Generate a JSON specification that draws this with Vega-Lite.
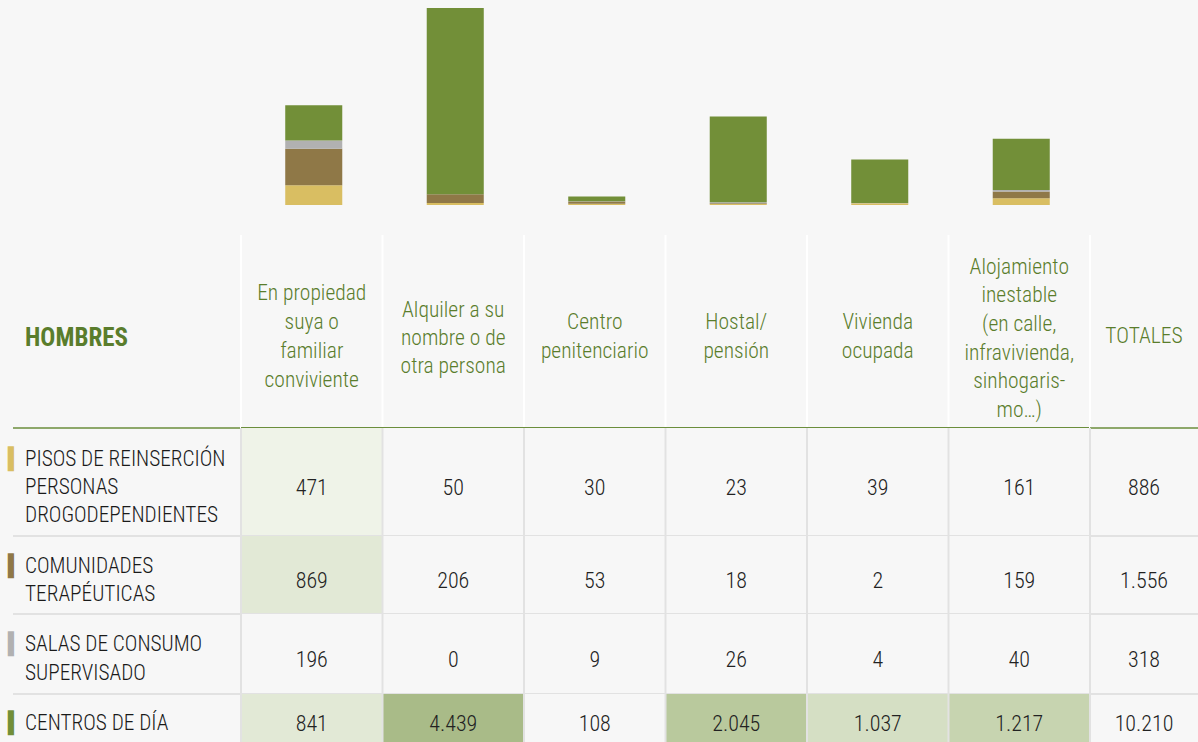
{
  "$schema": "https://vega.github.io/schema/vega-lite/v6.json",
  "background": "#f7f7f7",
  "padding": {"left": 8, "top": 0, "right": 0, "bottom": 0},
  "spacing": 0,
  "columns": 3,
  "bounds": "flush",
  "config": {
    "view": {"stroke": null},
    "concat": {"spacing": 0},
    "text": {"fontWeight": 300},
    "locale": {"number": {"decimal": ",", "thousands": ".", "grouping": [3], "currency": ["", " €"]}}
  },
  "resolve": {"scale": {"x": "independent", "y": "independent", "color": "independent", "fill": "independent"}},
  "datasets": {
    "recursos": [
      {"recurso": "Pisos de reinserción personas drogodependientes", "label": "PISOS DE REINSERCIÓN|PERSONAS|DROGODEPENDIENTES"},
      {"recurso": "Comunidades terapéuticas", "label": "COMUNIDADES|TERAPÉUTICAS"},
      {"recurso": "Salas de consumo supervisado", "label": "SALAS DE CONSUMO|SUPERVISADO"},
      {"recurso": "Centros de día", "label": "CENTROS DE DÍA"}
    ],
    "cols": [
      {"col": "En propiedad suya o familiar conviviente", "hdr": "En propiedad|suya o|familiar|conviviente"},
      {"col": "Alquiler a su nombre o de otra persona", "hdr": "Alquiler a su|nombre o de|otra persona"},
      {"col": "Centro penitenciario", "hdr": "Centro|penitenciario"},
      {"col": "Hostal/pensión", "hdr": "Hostal/|pensión"},
      {"col": "Vivienda ocupada", "hdr": "Vivienda|ocupada"},
      {"col": "Alojamiento inestable (en calle, infravivienda, sinhogarismo...)", "hdr": "Alojamiento|inestable|(en calle,|infravivienda,|sinhogaris-|mo…)"}
    ],
    "cells": [
      {"recurso": "Pisos de reinserción personas drogodependientes", "col": "En propiedad suya o familiar conviviente", "v": 471},
      {"recurso": "Pisos de reinserción personas drogodependientes", "col": "Alquiler a su nombre o de otra persona", "v": 50},
      {"recurso": "Pisos de reinserción personas drogodependientes", "col": "Centro penitenciario", "v": 30},
      {"recurso": "Pisos de reinserción personas drogodependientes", "col": "Hostal/pensión", "v": 23},
      {"recurso": "Pisos de reinserción personas drogodependientes", "col": "Vivienda ocupada", "v": 39},
      {"recurso": "Pisos de reinserción personas drogodependientes", "col": "Alojamiento inestable (en calle, infravivienda, sinhogarismo...)", "v": 161},
      {"recurso": "Pisos de reinserción personas drogodependientes", "col": "Totales", "v": 886},
      {"recurso": "Comunidades terapéuticas", "col": "En propiedad suya o familiar conviviente", "v": 869},
      {"recurso": "Comunidades terapéuticas", "col": "Alquiler a su nombre o de otra persona", "v": 206},
      {"recurso": "Comunidades terapéuticas", "col": "Centro penitenciario", "v": 53},
      {"recurso": "Comunidades terapéuticas", "col": "Hostal/pensión", "v": 18},
      {"recurso": "Comunidades terapéuticas", "col": "Vivienda ocupada", "v": 2},
      {"recurso": "Comunidades terapéuticas", "col": "Alojamiento inestable (en calle, infravivienda, sinhogarismo...)", "v": 159},
      {"recurso": "Comunidades terapéuticas", "col": "Totales", "v": 1556},
      {"recurso": "Salas de consumo supervisado", "col": "En propiedad suya o familiar conviviente", "v": 196},
      {"recurso": "Salas de consumo supervisado", "col": "Alquiler a su nombre o de otra persona", "v": 0},
      {"recurso": "Salas de consumo supervisado", "col": "Centro penitenciario", "v": 9},
      {"recurso": "Salas de consumo supervisado", "col": "Hostal/pensión", "v": 26},
      {"recurso": "Salas de consumo supervisado", "col": "Vivienda ocupada", "v": 4},
      {"recurso": "Salas de consumo supervisado", "col": "Alojamiento inestable (en calle, infravivienda, sinhogarismo...)", "v": 40},
      {"recurso": "Salas de consumo supervisado", "col": "Totales", "v": 318},
      {"recurso": "Centros de día", "col": "En propiedad suya o familiar conviviente", "v": 841},
      {"recurso": "Centros de día", "col": "Alquiler a su nombre o de otra persona", "v": 4439},
      {"recurso": "Centros de día", "col": "Centro penitenciario", "v": 108},
      {"recurso": "Centros de día", "col": "Hostal/pensión", "v": 2045},
      {"recurso": "Centros de día", "col": "Vivienda ocupada", "v": 1037},
      {"recurso": "Centros de día", "col": "Alojamiento inestable (en calle, infravivienda, sinhogarismo...)", "v": 1217},
      {"recurso": "Centros de día", "col": "Totales", "v": 10210}
    ]
  },
  "concat": [
    {"width": 233, "height": 235, "data": {"values": [{}]}, "mark": {"type": "text", "text": " "}, "encoding": {}},
    {
      "width": 849, "height": 235,
      "data": {"name": "cells"},
      "transform": [
        {"filter": "datum.col != 'Totales'"},
        {"calculate": "indexof(['Pisos de reinserción personas drogodependientes','Comunidades terapéuticas','Salas de consumo supervisado','Centros de día'], datum.recurso)", "as": "orden"}
      ],
      "mark": {"type": "bar", "width": {"band": 0.403}, "xOffset": 2},
      "encoding": {
        "x": {"field": "col", "type": "nominal", "axis": null, "sort": null,
          "scale": {"type": "band", "paddingInner": 0, "paddingOuter": 0, "domain": ["En propiedad suya o familiar conviviente", "Alquiler a su nombre o de otra persona", "Centro penitenciario", "Hostal/pensión", "Vivienda ocupada", "Alojamiento inestable (en calle, infravivienda, sinhogarismo...)"]}},
        "y": {"field": "v", "type": "quantitative", "stack": "zero", "axis": null, "scale": {"domain": [0, 4695], "range": [205, 8], "nice": false}},
        "color": {"field": "recurso", "type": "nominal", "legend": null,
          "scale": {"domain": ["Pisos de reinserción personas drogodependientes", "Comunidades terapéuticas", "Salas de consumo supervisado", "Centros de día"], "range": ["#d9be62", "#8f7847", "#b1b1b1", "#728f38"]}},
        "order": {"field": "orden", "type": "quantitative", "sort": "ascending"}
      }
    },
    {"width": 108, "height": 235, "data": {"values": [{}]}, "mark": {"type": "text", "text": " "}, "encoding": {}},

    {
      "width": 233, "height": 193,
      "data": {"values": [{}]},
      "layer": [
        {"mark": {"type": "text", "text": "HOMBRES", "align": "left", "baseline": "middle", "dx": 17, "dy": 6, "font": "Liberation Sans Narrow, Roboto Condensed, DejaVu Sans Condensed, sans-serif", "fontSize": 25, "fontWeight": "bold", "color": "#5a7d2c"}, "encoding": {"x": {"value": 0}}},
        {"mark": {"type": "rule", "color": "#6b8e3d", "strokeWidth": 1.5}, "encoding": {"y": {"value": 193}, "x": {"value": 5}, "x2": {"value": 233}}}
      ]
    },
    {
      "width": 849, "height": 193,
      "data": {"name": "cols"},
      "transform": [{"calculate": "length(split(datum.hdr, '|'))", "as": "nl"}],
      "encoding": {
        "x": {"field": "col", "type": "nominal", "axis": null, "sort": null,
          "scale": {"type": "band", "paddingInner": 0, "paddingOuter": 0, "domain": ["En propiedad suya o familiar conviviente", "Alquiler a su nombre o de otra persona", "Centro penitenciario", "Hostal/pensión", "Vivienda ocupada", "Alojamiento inestable (en calle, infravivienda, sinhogarismo...)"]}}
      },
      "layer": [
        {"mark": {"type": "rule", "color": "#ffffff", "strokeWidth": 2},
          "encoding": {"x": {"field": "col", "type": "nominal", "bandPosition": 0, "axis": null, "sort": null}}},
        {"transform": [{"filter": "datum.nl == 2"}],
          "mark": {"type": "text", "align": "center", "baseline": "middle", "dy": -9, "font": "Liberation Sans Narrow, Roboto Condensed, DejaVu Sans Condensed, sans-serif", "fontSize": 21.5, "lineHeight": 29, "lineBreak": "|", "color": "#5a7d2c"},
          "encoding": {"text": {"field": "hdr"}}},
        {"transform": [{"filter": "datum.nl == 3"}],
          "mark": {"type": "text", "align": "center", "baseline": "middle", "dy": -21, "font": "Liberation Sans Narrow, Roboto Condensed, DejaVu Sans Condensed, sans-serif", "fontSize": 21.5, "lineHeight": 28, "lineBreak": "|", "color": "#5a7d2c"},
          "encoding": {"text": {"field": "hdr"}}},
        {"transform": [{"filter": "datum.nl == 4"}],
          "mark": {"type": "text", "align": "center", "baseline": "middle", "dy": -38, "font": "Liberation Sans Narrow, Roboto Condensed, DejaVu Sans Condensed, sans-serif", "fontSize": 21.5, "lineHeight": 29, "lineBreak": "|", "color": "#5a7d2c"},
          "encoding": {"text": {"field": "hdr"}}},
        {"transform": [{"filter": "datum.nl == 6"}],
          "mark": {"type": "text", "align": "center", "baseline": "middle", "dy": -64, "font": "Liberation Sans Narrow, Roboto Condensed, DejaVu Sans Condensed, sans-serif", "fontSize": 21.5, "lineHeight": 28.7, "lineBreak": "|", "color": "#5a7d2c"},
          "encoding": {"text": {"field": "hdr"}}},
        {"mark": {"type": "rule", "color": "#6b8e3d", "strokeWidth": 1.5}, "encoding": {"x": null, "y": {"value": 193}}}
      ]
    },
    {
      "width": 108, "height": 193,
      "data": {"values": [{}]},
      "layer": [
        {"mark": {"type": "rule", "color": "#ffffff", "strokeWidth": 2}, "encoding": {"x": {"value": 0}}},
        {"mark": {"type": "text", "text": "TOTALES", "align": "center", "baseline": "middle", "dy": 5, "font": "Liberation Sans Narrow, Roboto Condensed, DejaVu Sans Condensed, sans-serif", "fontSize": 21.5, "color": "#5a7d2c"}, "encoding": {}},
        {"mark": {"type": "rule", "color": "#6b8e3d", "strokeWidth": 1.5}, "encoding": {"y": {"value": 193}}}
      ]
    },

    {
      "width": 233, "height": 108,
      "data": {"name": "recursos"},
      "transform": [{"filter": "datum.recurso == 'Pisos de reinserción personas drogodependientes'"}],
      "encoding": {"y": {"field": "recurso", "type": "nominal", "axis": null, "scale": {"type": "band", "paddingInner": 0, "paddingOuter": 0}}},
      "layer": [
        {"mark": {"type": "rule", "color": "#e2e2e2", "strokeWidth": 2}, "encoding": {"y": {"field": "recurso", "type": "nominal", "bandPosition": 1, "axis": null}, "x": {"value": 5}, "x2": {"value": 233}}},
        {"mark": {"type": "text", "align": "left", "baseline": "middle", "dx": 17, "dy": -22, "font": "Liberation Sans Narrow, Roboto Condensed, DejaVu Sans Condensed, sans-serif", "fontSize": 21.3, "lineHeight": 28, "lineBreak": "|", "color": "#1a1a1a"},
          "encoding": {"x": {"value": 0}, "text": {"field": "label"}}},
        {"mark": {"type": "text", "text": "▍", "align": "left", "baseline": "middle", "dx": 0, "dy": -22, "font": "DejaVu Sans", "fontSize": 21},
          "encoding": {"x": {"value": 0},
            "color": {"field": "recurso", "type": "nominal", "legend": null, "scale": {"domain": ["Pisos de reinserción personas drogodependientes", "Comunidades terapéuticas", "Salas de consumo supervisado", "Centros de día"], "range": ["#d9be62", "#8f7847", "#b1b1b1", "#728f38"]}}}}
      ]
    },
    {
      "width": 849, "height": 108,
      "data": {"name": "cells"},
      "transform": [{"filter": "datum.recurso == 'Pisos de reinserción personas drogodependientes' && datum.col != 'Totales'"}],
      "encoding": {
        "x": {"field": "col", "type": "nominal", "axis": null, "sort": null, "scale": {"type": "band", "paddingInner": 0, "paddingOuter": 0, "domain": ["En propiedad suya o familiar conviviente", "Alquiler a su nombre o de otra persona", "Centro penitenciario", "Hostal/pensión", "Vivienda ocupada", "Alojamiento inestable (en calle, infravivienda, sinhogarismo...)"]}},
        "y": {"field": "recurso", "type": "nominal", "axis": null, "scale": {"type": "band", "paddingInner": 0, "paddingOuter": 0}}
      },
      "layer": [
        {"mark": {"type": "rect"},
          "encoding": {"fill": {"field": "v", "type": "quantitative", "legend": null, "scale": {"type": "threshold", "domain": [400, 800, 1000, 1100, 1500, 3000], "range": ["#f7f7f7", "#eff3e8", "#e2e9d6", "#d5dfc4", "#c7d4b0", "#b9c99d", "#a9bb88"]}}}},
        {"mark": {"type": "rule", "color": "#e2e2e2", "strokeWidth": 2},
          "encoding": {"x": {"field": "col", "type": "nominal", "bandPosition": 0, "axis": null, "sort": null}, "y": null}},
        {"mark": {"type": "rule", "color": "#e2e2e2", "strokeWidth": 2},
          "encoding": {"x": null, "y": {"field": "recurso", "type": "nominal", "bandPosition": 1, "axis": null}}},
        {"mark": {"type": "text", "align": "center", "baseline": "middle", "dy": 6, "font": "Liberation Sans Narrow, Roboto Condensed, DejaVu Sans Condensed, sans-serif", "fontSize": 22, "color": "#222222"},
          "encoding": {"text": {"field": "v", "type": "quantitative", "format": ",d"}}}
      ]
    },
    {
      "width": 108, "height": 108,
      "data": {"name": "cells"},
      "transform": [{"filter": "datum.recurso == 'Pisos de reinserción personas drogodependientes' && datum.col == 'Totales'"}],
      "encoding": {"y": {"field": "recurso", "type": "nominal", "axis": null, "scale": {"type": "band", "paddingInner": 0, "paddingOuter": 0}}},
      "layer": [
        {"mark": {"type": "rule", "color": "#e2e2e2", "strokeWidth": 2}, "encoding": {"x": {"value": 0}, "y": null}},
        {"mark": {"type": "rule", "color": "#e2e2e2", "strokeWidth": 2}, "encoding": {"y": {"field": "recurso", "type": "nominal", "bandPosition": 1, "axis": null}}},
        {"mark": {"type": "text", "align": "center", "baseline": "middle", "dy": 6, "font": "Liberation Sans Narrow, Roboto Condensed, DejaVu Sans Condensed, sans-serif", "fontSize": 22, "color": "#222222"},
          "encoding": {"text": {"field": "v", "type": "quantitative", "format": ",d"}}}
      ]
    },

    {
      "width": 233, "height": 78,
      "data": {"name": "recursos"},
      "transform": [{"filter": "datum.recurso == 'Comunidades terapéuticas'"}],
      "encoding": {"y": {"field": "recurso", "type": "nominal", "axis": null, "scale": {"type": "band", "paddingInner": 0, "paddingOuter": 0}}},
      "layer": [
        {"mark": {"type": "rule", "color": "#e2e2e2", "strokeWidth": 2}, "encoding": {"y": {"field": "recurso", "type": "nominal", "bandPosition": 1, "axis": null}, "x": {"value": 5}, "x2": {"value": 233}}},
        {"mark": {"type": "text", "align": "left", "baseline": "middle", "dx": 17, "dy": -8, "font": "Liberation Sans Narrow, Roboto Condensed, DejaVu Sans Condensed, sans-serif", "fontSize": 21.3, "lineHeight": 28, "lineBreak": "|", "color": "#1a1a1a"},
          "encoding": {"x": {"value": 0}, "text": {"field": "label"}}},
        {"mark": {"type": "text", "text": "▍", "align": "left", "baseline": "middle", "dx": 0, "dy": -8, "font": "DejaVu Sans", "fontSize": 21},
          "encoding": {"x": {"value": 0},
            "color": {"field": "recurso", "type": "nominal", "legend": null, "scale": {"domain": ["Pisos de reinserción personas drogodependientes", "Comunidades terapéuticas", "Salas de consumo supervisado", "Centros de día"], "range": ["#d9be62", "#8f7847", "#b1b1b1", "#728f38"]}}}}
      ]
    },
    {
      "width": 849, "height": 78,
      "data": {"name": "cells"},
      "transform": [{"filter": "datum.recurso == 'Comunidades terapéuticas' && datum.col != 'Totales'"}],
      "encoding": {
        "x": {"field": "col", "type": "nominal", "axis": null, "sort": null, "scale": {"type": "band", "paddingInner": 0, "paddingOuter": 0, "domain": ["En propiedad suya o familiar conviviente", "Alquiler a su nombre o de otra persona", "Centro penitenciario", "Hostal/pensión", "Vivienda ocupada", "Alojamiento inestable (en calle, infravivienda, sinhogarismo...)"]}},
        "y": {"field": "recurso", "type": "nominal", "axis": null, "scale": {"type": "band", "paddingInner": 0, "paddingOuter": 0}}
      },
      "layer": [
        {"mark": {"type": "rect"},
          "encoding": {"fill": {"field": "v", "type": "quantitative", "legend": null, "scale": {"type": "threshold", "domain": [400, 800, 1000, 1100, 1500, 3000], "range": ["#f7f7f7", "#eff3e8", "#e2e9d6", "#d5dfc4", "#c7d4b0", "#b9c99d", "#a9bb88"]}}}},
        {"mark": {"type": "rule", "color": "#e2e2e2", "strokeWidth": 2},
          "encoding": {"x": {"field": "col", "type": "nominal", "bandPosition": 0, "axis": null, "sort": null}, "y": null}},
        {"mark": {"type": "rule", "color": "#e2e2e2", "strokeWidth": 2},
          "encoding": {"x": null, "y": {"field": "recurso", "type": "nominal", "bandPosition": 1, "axis": null}}},
        {"mark": {"type": "text", "align": "center", "baseline": "middle", "dy": 6, "font": "Liberation Sans Narrow, Roboto Condensed, DejaVu Sans Condensed, sans-serif", "fontSize": 22, "color": "#222222"},
          "encoding": {"text": {"field": "v", "type": "quantitative", "format": ",d"}}}
      ]
    },
    {
      "width": 108, "height": 78,
      "data": {"name": "cells"},
      "transform": [{"filter": "datum.recurso == 'Comunidades terapéuticas' && datum.col == 'Totales'"}],
      "encoding": {"y": {"field": "recurso", "type": "nominal", "axis": null, "scale": {"type": "band", "paddingInner": 0, "paddingOuter": 0}}},
      "layer": [
        {"mark": {"type": "rule", "color": "#e2e2e2", "strokeWidth": 2}, "encoding": {"x": {"value": 0}, "y": null}},
        {"mark": {"type": "rule", "color": "#e2e2e2", "strokeWidth": 2}, "encoding": {"y": {"field": "recurso", "type": "nominal", "bandPosition": 1, "axis": null}}},
        {"mark": {"type": "text", "align": "center", "baseline": "middle", "dy": 6, "font": "Liberation Sans Narrow, Roboto Condensed, DejaVu Sans Condensed, sans-serif", "fontSize": 22, "color": "#222222"},
          "encoding": {"text": {"field": "v", "type": "quantitative", "format": ",d"}}}
      ]
    },

    {
      "width": 233, "height": 80,
      "data": {"name": "recursos"},
      "transform": [{"filter": "datum.recurso == 'Salas de consumo supervisado'"}],
      "encoding": {"y": {"field": "recurso", "type": "nominal", "axis": null, "scale": {"type": "band", "paddingInner": 0, "paddingOuter": 0}}},
      "layer": [
        {"mark": {"type": "rule", "color": "#e2e2e2", "strokeWidth": 2}, "encoding": {"y": {"field": "recurso", "type": "nominal", "bandPosition": 1, "axis": null}, "x": {"value": 5}, "x2": {"value": 233}}},
        {"mark": {"type": "text", "align": "left", "baseline": "middle", "dx": 17, "dy": -9, "font": "Liberation Sans Narrow, Roboto Condensed, DejaVu Sans Condensed, sans-serif", "fontSize": 21.3, "lineHeight": 29, "lineBreak": "|", "color": "#1a1a1a"},
          "encoding": {"x": {"value": 0}, "text": {"field": "label"}}},
        {"mark": {"type": "text", "text": "▍", "align": "left", "baseline": "middle", "dx": 0, "dy": -9, "font": "DejaVu Sans", "fontSize": 21},
          "encoding": {"x": {"value": 0},
            "color": {"field": "recurso", "type": "nominal", "legend": null, "scale": {"domain": ["Pisos de reinserción personas drogodependientes", "Comunidades terapéuticas", "Salas de consumo supervisado", "Centros de día"], "range": ["#d9be62", "#8f7847", "#b1b1b1", "#728f38"]}}}}
      ]
    },
    {
      "width": 849, "height": 80,
      "data": {"name": "cells"},
      "transform": [{"filter": "datum.recurso == 'Salas de consumo supervisado' && datum.col != 'Totales'"}],
      "encoding": {
        "x": {"field": "col", "type": "nominal", "axis": null, "sort": null, "scale": {"type": "band", "paddingInner": 0, "paddingOuter": 0, "domain": ["En propiedad suya o familiar conviviente", "Alquiler a su nombre o de otra persona", "Centro penitenciario", "Hostal/pensión", "Vivienda ocupada", "Alojamiento inestable (en calle, infravivienda, sinhogarismo...)"]}},
        "y": {"field": "recurso", "type": "nominal", "axis": null, "scale": {"type": "band", "paddingInner": 0, "paddingOuter": 0}}
      },
      "layer": [
        {"mark": {"type": "rect"},
          "encoding": {"fill": {"field": "v", "type": "quantitative", "legend": null, "scale": {"type": "threshold", "domain": [400, 800, 1000, 1100, 1500, 3000], "range": ["#f7f7f7", "#eff3e8", "#e2e9d6", "#d5dfc4", "#c7d4b0", "#b9c99d", "#a9bb88"]}}}},
        {"mark": {"type": "rule", "color": "#e2e2e2", "strokeWidth": 2},
          "encoding": {"x": {"field": "col", "type": "nominal", "bandPosition": 0, "axis": null, "sort": null}, "y": null}},
        {"mark": {"type": "rule", "color": "#e2e2e2", "strokeWidth": 2},
          "encoding": {"x": null, "y": {"field": "recurso", "type": "nominal", "bandPosition": 1, "axis": null}}},
        {"mark": {"type": "text", "align": "center", "baseline": "middle", "dy": 6, "font": "Liberation Sans Narrow, Roboto Condensed, DejaVu Sans Condensed, sans-serif", "fontSize": 22, "color": "#222222"},
          "encoding": {"text": {"field": "v", "type": "quantitative", "format": ",d"}}}
      ]
    },
    {
      "width": 108, "height": 80,
      "data": {"name": "cells"},
      "transform": [{"filter": "datum.recurso == 'Salas de consumo supervisado' && datum.col == 'Totales'"}],
      "encoding": {"y": {"field": "recurso", "type": "nominal", "axis": null, "scale": {"type": "band", "paddingInner": 0, "paddingOuter": 0}}},
      "layer": [
        {"mark": {"type": "rule", "color": "#e2e2e2", "strokeWidth": 2}, "encoding": {"x": {"value": 0}, "y": null}},
        {"mark": {"type": "rule", "color": "#e2e2e2", "strokeWidth": 2}, "encoding": {"y": {"field": "recurso", "type": "nominal", "bandPosition": 1, "axis": null}}},
        {"mark": {"type": "text", "align": "center", "baseline": "middle", "dy": 6, "font": "Liberation Sans Narrow, Roboto Condensed, DejaVu Sans Condensed, sans-serif", "fontSize": 22, "color": "#222222"},
          "encoding": {"text": {"field": "v", "type": "quantitative", "format": ",d"}}}
      ]
    },

    {
      "width": 233, "height": 50,
      "data": {"name": "recursos"},
      "transform": [{"filter": "datum.recurso == 'Centros de día'"}],
      "encoding": {"y": {"field": "recurso", "type": "nominal", "axis": null, "scale": {"type": "band", "paddingInner": 0, "paddingOuter": 0}}},
      "layer": [
        {"mark": {"type": "text", "align": "left", "baseline": "middle", "dx": 17, "dy": 5, "font": "Liberation Sans Narrow, Roboto Condensed, DejaVu Sans Condensed, sans-serif", "fontSize": 21.3, "lineHeight": 28, "lineBreak": "|", "color": "#1a1a1a"},
          "encoding": {"x": {"value": 0}, "text": {"field": "label"}}},
        {"mark": {"type": "text", "text": "▍", "align": "left", "baseline": "middle", "dx": 0, "dy": 5, "font": "DejaVu Sans", "fontSize": 21},
          "encoding": {"x": {"value": 0},
            "color": {"field": "recurso", "type": "nominal", "legend": null, "scale": {"domain": ["Pisos de reinserción personas drogodependientes", "Comunidades terapéuticas", "Salas de consumo supervisado", "Centros de día"], "range": ["#d9be62", "#8f7847", "#b1b1b1", "#728f38"]}}}}
      ]
    },
    {
      "width": 849, "height": 50,
      "data": {"name": "cells"},
      "transform": [{"filter": "datum.recurso == 'Centros de día' && datum.col != 'Totales'"}],
      "encoding": {
        "x": {"field": "col", "type": "nominal", "axis": null, "sort": null, "scale": {"type": "band", "paddingInner": 0, "paddingOuter": 0, "domain": ["En propiedad suya o familiar conviviente", "Alquiler a su nombre o de otra persona", "Centro penitenciario", "Hostal/pensión", "Vivienda ocupada", "Alojamiento inestable (en calle, infravivienda, sinhogarismo...)"]}},
        "y": {"field": "recurso", "type": "nominal", "axis": null, "scale": {"type": "band", "paddingInner": 0, "paddingOuter": 0}}
      },
      "layer": [
        {"mark": {"type": "rect"},
          "encoding": {"fill": {"field": "v", "type": "quantitative", "legend": null, "scale": {"type": "threshold", "domain": [400, 800, 1000, 1100, 1500, 3000], "range": ["#f7f7f7", "#eff3e8", "#e2e9d6", "#d5dfc4", "#c7d4b0", "#b9c99d", "#a9bb88"]}}}},
        {"mark": {"type": "rule", "color": "#e2e2e2", "strokeWidth": 2},
          "encoding": {"x": {"field": "col", "type": "nominal", "bandPosition": 0, "axis": null, "sort": null}, "y": null}},
        {"mark": {"type": "text", "align": "center", "baseline": "middle", "dy": 5, "font": "Liberation Sans Narrow, Roboto Condensed, DejaVu Sans Condensed, sans-serif", "fontSize": 22, "color": "#222222"},
          "encoding": {"text": {"field": "v", "type": "quantitative", "format": ",d"}}}
      ]
    },
    {
      "width": 108, "height": 50,
      "data": {"name": "cells"},
      "transform": [{"filter": "datum.recurso == 'Centros de día' && datum.col == 'Totales'"}],
      "encoding": {"y": {"field": "recurso", "type": "nominal", "axis": null, "scale": {"type": "band", "paddingInner": 0, "paddingOuter": 0}}},
      "layer": [
        {"mark": {"type": "rule", "color": "#e2e2e2", "strokeWidth": 2}, "encoding": {"x": {"value": 0}, "y": null}},
        {"mark": {"type": "text", "align": "center", "baseline": "middle", "dy": 5, "font": "Liberation Sans Narrow, Roboto Condensed, DejaVu Sans Condensed, sans-serif", "fontSize": 22, "color": "#222222"},
          "encoding": {"text": {"field": "v", "type": "quantitative", "format": ",d"}}}
      ]
    }
  ]
}
